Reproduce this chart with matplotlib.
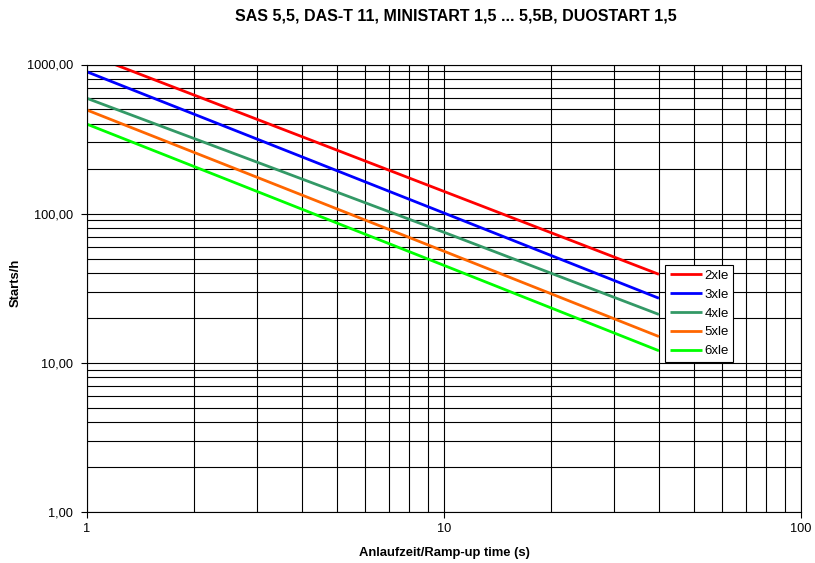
import matplotlib.pyplot as plt
from matplotlib.ticker import FixedLocator, FuncFormatter, LogLocator, NullFormatter

plt.rcParams['font.family'] = ['Liberation Sans', 'DejaVu Sans']

# ramp-up time (s) and starts per hour
ramp_time = [1, 10, 40]
starts_2xle = [1180, 141, 39.2]
starts_3xle = [893, 101, 27.1]
starts_4xle = [593, 75, 21.1]
starts_5xle = [495, 56, 15.0]
starts_6xle = [398, 45, 12.05]

labels = ['2xle', '3xle', '4xle', '5xle', '6xle']
colors = ['#ff0000', '#0000ff', '#339966', '#ff6600', '#00ff00']
series = [starts_2xle, starts_3xle, starts_4xle, starts_5xle, starts_6xle]

fig = plt.figure(figsize=(8.15, 5.63), dpi=100)
ax = fig.add_axes([87 / 815, 1 - 512 / 563, 714 / 815, 447.5 / 563])

for values, label, color in zip(series, labels, colors):
    ax.plot(ramp_time, values, color=color, lw=2, label=label, solid_capstyle='butt')

ax.set_xscale('log')
ax.set_yscale('log')
ax.set_xlim(1, 100)
ax.set_ylim(1, 1000)

ax.xaxis.set_major_locator(FixedLocator([1, 10, 100]))
ax.yaxis.set_major_locator(FixedLocator([1, 10, 100, 1000]))
ax.xaxis.set_minor_locator(LogLocator(base=10, subs=range(2, 10)))
ax.yaxis.set_minor_locator(LogLocator(base=10, subs=range(2, 10)))
ax.xaxis.set_minor_formatter(NullFormatter())
ax.yaxis.set_minor_formatter(NullFormatter())
ax.xaxis.set_major_formatter(FuncFormatter(lambda v, p: '%d' % round(v)))
ax.yaxis.set_major_formatter(FuncFormatter(lambda v, p: ('%.2f' % v).replace('.', ',')))

ax.grid(True, which='both', color='black', lw=0.8)
ax.set_axisbelow(True)
ax.tick_params(which='major', length=4, width=0.8, labelsize=9.2)
ax.tick_params(axis='x', pad=4)
ax.tick_params(axis='y', pad=6)
ax.tick_params(which='minor', length=0)
for s in ax.spines.values():
    s.set_linewidth(0.8)
    s.set_color('black')

ax.set_xlabel('Anlaufzeit/Ramp-up time (s)', fontsize=9.4, fontweight='bold')
ax.xaxis.set_label_coords(0.5, (512 - 552.7) / 447.5)
ax.xaxis.label.set_va('center')
ax.set_ylabel('Starts/h', fontsize=9.4, fontweight='bold')
ax.yaxis.set_label_coords((16 - 87) / 714, (512 - 283) / 447.5)
ax.yaxis.label.set_va('center')

fig.text(456 / 815, 1 - 16 / 563, 'SAS 5,5, DAS-T 11, MINISTART 1,5 ... 5,5B, DUOSTART 1,5',
         ha='center', va='center', fontsize=11.5, fontweight='bold')

leg = ax.legend(loc='upper left', bbox_to_anchor=(0.81, 0.552), borderaxespad=0,
                fancybox=False, framealpha=1, edgecolor='black', fontsize=9.5,
                handlelength=2.4, handletextpad=0.2, labelspacing=0.5,
                borderpad=0.35)
leg.get_frame().set_linewidth(0.8)

fig.savefig('out.png', dpi=100)
